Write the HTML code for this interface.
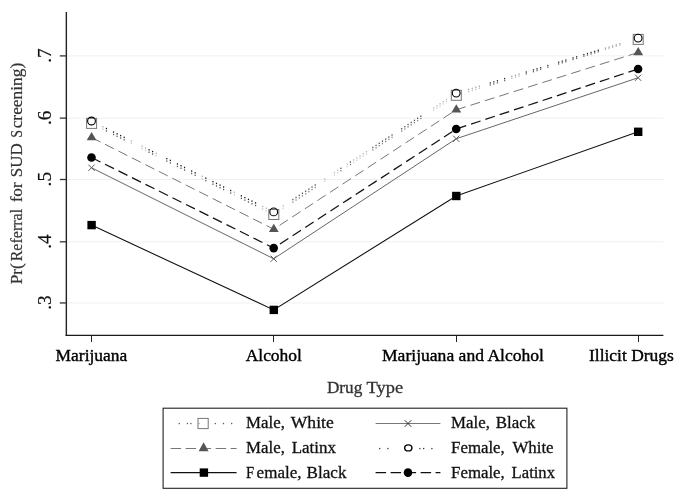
<!DOCTYPE html>
<html><head><meta charset="utf-8"><title>chart</title>
<style>
html,body{margin:0;padding:0;background:#fff;}
body{width:685px;height:496px;overflow:hidden;}
svg{display:block;will-change:transform;filter:grayscale(1);}
text{font-family:"Liberation Serif",serif;}
</style></head><body>
<svg width="685" height="496" viewBox="0 0 685 496">
<rect x="0" y="0" width="685" height="496" fill="#fff"/>
<line x1="67" y1="55.9" x2="663.4" y2="55.9" stroke="#f0f0f0" stroke-width="1"/>
<line x1="67" y1="118.1" x2="663.4" y2="118.1" stroke="#f0f0f0" stroke-width="1"/>
<line x1="67" y1="179.5" x2="663.4" y2="179.5" stroke="#f0f0f0" stroke-width="1"/>
<line x1="67" y1="241.8" x2="663.4" y2="241.8" stroke="#f0f0f0" stroke-width="1"/>
<line x1="67" y1="302.95" x2="663.4" y2="302.95" stroke="#f0f0f0" stroke-width="1"/>
<g><rect x="105.85" y="127.83" width="1.2" height="1.4" fill="#111" fill-opacity="1.00"/><rect x="105.85" y="130.25" width="1.2" height="1.4" fill="#555" fill-opacity="1.00"/><rect x="112.95" y="131.38" width="1.2" height="1.4" fill="#111" fill-opacity="1.00"/><rect x="112.95" y="133.80" width="1.2" height="1.4" fill="#555" fill-opacity="1.00"/><rect x="116.50" y="133.15" width="1.2" height="1.4" fill="#111" fill-opacity="1.00"/><rect x="116.50" y="135.58" width="1.2" height="1.4" fill="#555" fill-opacity="1.00"/><rect x="120.05" y="134.92" width="1.2" height="1.4" fill="#111" fill-opacity="1.00"/><rect x="120.05" y="137.35" width="1.2" height="1.4" fill="#555" fill-opacity="1.00"/><rect x="123.60" y="136.69" width="1.2" height="1.4" fill="#111" fill-opacity="1.00"/><rect x="123.60" y="139.13" width="1.2" height="1.4" fill="#555" fill-opacity="1.00"/><rect x="148.45" y="149.09" width="1.2" height="1.4" fill="#111" fill-opacity="1.00"/><rect x="148.45" y="151.55" width="1.2" height="1.4" fill="#555" fill-opacity="1.00"/><rect x="152.00" y="150.86" width="1.2" height="1.4" fill="#111" fill-opacity="1.00"/><rect x="152.00" y="153.33" width="1.2" height="1.4" fill="#555" fill-opacity="1.00"/><rect x="166.20" y="157.94" width="1.2" height="1.4" fill="#111" fill-opacity="1.00"/><rect x="166.20" y="160.43" width="1.2" height="1.4" fill="#555" fill-opacity="1.00"/><rect x="169.75" y="159.71" width="1.2" height="1.4" fill="#111" fill-opacity="1.00"/><rect x="169.75" y="162.20" width="1.2" height="1.4" fill="#555" fill-opacity="1.00"/><rect x="176.85" y="163.26" width="1.2" height="1.4" fill="#111" fill-opacity="1.00"/><rect x="176.85" y="165.75" width="1.2" height="1.4" fill="#555" fill-opacity="1.00"/><rect x="180.40" y="165.03" width="1.2" height="1.4" fill="#111" fill-opacity="1.00"/><rect x="180.40" y="167.53" width="1.2" height="1.4" fill="#555" fill-opacity="1.00"/><rect x="183.95" y="166.80" width="1.2" height="1.4" fill="#111" fill-opacity="1.00"/><rect x="183.95" y="169.30" width="1.2" height="1.4" fill="#555" fill-opacity="1.00"/><rect x="191.05" y="170.34" width="1.2" height="1.4" fill="#111" fill-opacity="1.00"/><rect x="191.05" y="172.85" width="1.2" height="1.4" fill="#555" fill-opacity="1.00"/><rect x="194.60" y="172.11" width="1.2" height="1.4" fill="#111" fill-opacity="1.00"/><rect x="194.60" y="174.63" width="1.2" height="1.4" fill="#555" fill-opacity="1.00"/><rect x="205.25" y="177.42" width="1.2" height="1.4" fill="#111" fill-opacity="1.00"/><rect x="205.25" y="179.95" width="1.2" height="1.4" fill="#555" fill-opacity="1.00"/><rect x="212.35" y="180.97" width="1.2" height="1.4" fill="#111" fill-opacity="1.00"/><rect x="212.35" y="183.50" width="1.2" height="1.4" fill="#555" fill-opacity="1.00"/><rect x="215.90" y="182.74" width="1.2" height="1.4" fill="#111" fill-opacity="1.00"/><rect x="215.90" y="185.28" width="1.2" height="1.4" fill="#555" fill-opacity="1.00"/><rect x="219.45" y="184.51" width="1.2" height="1.4" fill="#111" fill-opacity="1.00"/><rect x="219.45" y="187.05" width="1.2" height="1.4" fill="#555" fill-opacity="1.00"/><rect x="223.00" y="186.28" width="1.2" height="1.4" fill="#111" fill-opacity="1.00"/><rect x="223.00" y="188.83" width="1.2" height="1.4" fill="#555" fill-opacity="1.00"/><rect x="230.10" y="189.82" width="1.2" height="1.4" fill="#111" fill-opacity="1.00"/><rect x="230.10" y="192.38" width="1.2" height="1.4" fill="#555" fill-opacity="1.00"/><rect x="240.75" y="195.14" width="1.2" height="1.4" fill="#111" fill-opacity="1.00"/><rect x="240.75" y="197.70" width="1.2" height="1.4" fill="#555" fill-opacity="1.00"/><rect x="244.30" y="196.91" width="1.2" height="1.4" fill="#111" fill-opacity="1.00"/><rect x="244.30" y="199.47" width="1.2" height="1.4" fill="#555" fill-opacity="1.00"/><rect x="247.85" y="198.68" width="1.2" height="1.4" fill="#111" fill-opacity="1.00"/><rect x="247.85" y="201.25" width="1.2" height="1.4" fill="#555" fill-opacity="1.00"/><rect x="251.40" y="200.45" width="1.2" height="1.4" fill="#111" fill-opacity="1.00"/><rect x="251.40" y="203.03" width="1.2" height="1.4" fill="#555" fill-opacity="1.00"/><rect x="254.95" y="202.22" width="1.2" height="1.4" fill="#111" fill-opacity="1.00"/><rect x="254.95" y="204.80" width="1.2" height="1.4" fill="#555" fill-opacity="1.00"/><rect x="102.30" y="126.06" width="1.2" height="1.4" fill="#111" fill-opacity="0.35"/><rect x="102.30" y="128.48" width="1.2" height="1.4" fill="#555" fill-opacity="0.35"/><rect x="130.70" y="140.23" width="1.2" height="1.4" fill="#111" fill-opacity="0.35"/><rect x="130.70" y="142.68" width="1.2" height="1.4" fill="#555" fill-opacity="0.35"/><rect x="141.35" y="145.54" width="1.2" height="1.4" fill="#111" fill-opacity="0.35"/><rect x="141.35" y="148.00" width="1.2" height="1.4" fill="#555" fill-opacity="0.35"/><rect x="144.90" y="147.32" width="1.2" height="1.4" fill="#111" fill-opacity="0.35"/><rect x="144.90" y="149.78" width="1.2" height="1.4" fill="#555" fill-opacity="0.35"/><rect x="155.55" y="152.63" width="1.2" height="1.4" fill="#111" fill-opacity="0.35"/><rect x="155.55" y="155.10" width="1.2" height="1.4" fill="#555" fill-opacity="0.35"/><rect x="201.70" y="175.65" width="1.2" height="1.4" fill="#111" fill-opacity="0.35"/><rect x="201.70" y="178.18" width="1.2" height="1.4" fill="#555" fill-opacity="0.35"/><rect x="233.65" y="191.59" width="1.2" height="1.4" fill="#111" fill-opacity="0.35"/><rect x="233.65" y="194.15" width="1.2" height="1.4" fill="#555" fill-opacity="0.35"/><rect x="262.05" y="205.76" width="1.2" height="1.4" fill="#111" fill-opacity="0.35"/><rect x="262.05" y="208.35" width="1.2" height="1.4" fill="#555" fill-opacity="0.35"/><rect x="265.60" y="207.53" width="1.2" height="1.4" fill="#111" fill-opacity="0.35"/><rect x="265.60" y="210.12" width="1.2" height="1.4" fill="#555" fill-opacity="0.35"/><rect x="282.65" y="205.12" width="1.2" height="1.4" fill="#111" fill-opacity="0.30"/><rect x="282.65" y="207.70" width="1.2" height="1.4" fill="#555" fill-opacity="0.30"/><rect x="292.25" y="198.87" width="1.2" height="1.4" fill="#111" fill-opacity="0.75"/><rect x="292.25" y="201.42" width="1.2" height="1.4" fill="#555" fill-opacity="0.75"/><rect x="295.45" y="196.78" width="1.2" height="1.4" fill="#111" fill-opacity="0.75"/><rect x="295.45" y="199.33" width="1.2" height="1.4" fill="#555" fill-opacity="0.75"/><rect x="298.65" y="194.70" width="1.2" height="1.4" fill="#111" fill-opacity="0.75"/><rect x="298.65" y="197.24" width="1.2" height="1.4" fill="#555" fill-opacity="0.75"/><rect x="301.85" y="192.62" width="1.2" height="1.4" fill="#111" fill-opacity="0.75"/><rect x="301.85" y="195.15" width="1.2" height="1.4" fill="#555" fill-opacity="0.75"/><rect x="305.05" y="190.53" width="1.2" height="1.4" fill="#111" fill-opacity="0.75"/><rect x="305.05" y="193.06" width="1.2" height="1.4" fill="#555" fill-opacity="0.75"/><rect x="308.25" y="188.45" width="1.2" height="1.4" fill="#111" fill-opacity="0.75"/><rect x="308.25" y="190.97" width="1.2" height="1.4" fill="#555" fill-opacity="0.75"/><rect x="311.45" y="186.37" width="1.2" height="1.4" fill="#111" fill-opacity="0.75"/><rect x="311.45" y="188.88" width="1.2" height="1.4" fill="#555" fill-opacity="0.75"/><rect x="314.65" y="184.29" width="1.2" height="1.4" fill="#111" fill-opacity="0.75"/><rect x="314.65" y="186.79" width="1.2" height="1.4" fill="#555" fill-opacity="0.75"/><rect x="324.25" y="178.04" width="1.2" height="1.4" fill="#111" fill-opacity="0.30"/><rect x="324.25" y="180.52" width="1.2" height="1.4" fill="#555" fill-opacity="0.30"/><rect x="333.85" y="171.79" width="1.2" height="1.4" fill="#111" fill-opacity="0.30"/><rect x="333.85" y="174.25" width="1.2" height="1.4" fill="#555" fill-opacity="0.30"/><rect x="337.05" y="169.70" width="1.2" height="1.4" fill="#111" fill-opacity="0.30"/><rect x="337.05" y="172.16" width="1.2" height="1.4" fill="#555" fill-opacity="0.30"/><rect x="340.25" y="167.62" width="1.2" height="1.4" fill="#111" fill-opacity="0.75"/><rect x="340.25" y="170.07" width="1.2" height="1.4" fill="#555" fill-opacity="0.75"/><rect x="346.65" y="163.45" width="1.2" height="1.4" fill="#111" fill-opacity="0.30"/><rect x="346.65" y="165.89" width="1.2" height="1.4" fill="#555" fill-opacity="0.30"/><rect x="349.85" y="161.37" width="1.2" height="1.4" fill="#111" fill-opacity="0.75"/><rect x="349.85" y="163.80" width="1.2" height="1.4" fill="#555" fill-opacity="0.75"/><rect x="353.05" y="159.29" width="1.2" height="1.4" fill="#111" fill-opacity="0.30"/><rect x="353.05" y="161.71" width="1.2" height="1.4" fill="#555" fill-opacity="0.30"/><rect x="356.25" y="157.21" width="1.2" height="1.4" fill="#111" fill-opacity="0.30"/><rect x="356.25" y="159.62" width="1.2" height="1.4" fill="#555" fill-opacity="0.30"/><rect x="359.45" y="155.12" width="1.2" height="1.4" fill="#111" fill-opacity="0.30"/><rect x="359.45" y="157.53" width="1.2" height="1.4" fill="#555" fill-opacity="0.30"/><rect x="362.65" y="153.04" width="1.2" height="1.4" fill="#111" fill-opacity="0.30"/><rect x="362.65" y="155.44" width="1.2" height="1.4" fill="#555" fill-opacity="0.30"/><rect x="365.85" y="150.96" width="1.2" height="1.4" fill="#111" fill-opacity="0.30"/><rect x="365.85" y="153.35" width="1.2" height="1.4" fill="#555" fill-opacity="0.30"/><rect x="372.25" y="146.79" width="1.2" height="1.4" fill="#111" fill-opacity="0.75"/><rect x="372.25" y="149.17" width="1.2" height="1.4" fill="#555" fill-opacity="0.75"/><rect x="375.45" y="144.71" width="1.2" height="1.4" fill="#111" fill-opacity="0.75"/><rect x="375.45" y="147.08" width="1.2" height="1.4" fill="#555" fill-opacity="0.75"/><rect x="378.65" y="142.62" width="1.2" height="1.4" fill="#111" fill-opacity="0.75"/><rect x="378.65" y="144.99" width="1.2" height="1.4" fill="#555" fill-opacity="0.75"/><rect x="381.85" y="140.54" width="1.2" height="1.4" fill="#111" fill-opacity="0.75"/><rect x="381.85" y="142.90" width="1.2" height="1.4" fill="#555" fill-opacity="0.75"/><rect x="385.05" y="138.46" width="1.2" height="1.4" fill="#111" fill-opacity="0.75"/><rect x="385.05" y="140.81" width="1.2" height="1.4" fill="#555" fill-opacity="0.75"/><rect x="388.25" y="136.37" width="1.2" height="1.4" fill="#111" fill-opacity="0.75"/><rect x="388.25" y="138.72" width="1.2" height="1.4" fill="#555" fill-opacity="0.75"/><rect x="391.45" y="134.29" width="1.2" height="1.4" fill="#111" fill-opacity="0.75"/><rect x="391.45" y="136.63" width="1.2" height="1.4" fill="#555" fill-opacity="0.75"/><rect x="401.05" y="128.04" width="1.2" height="1.4" fill="#111" fill-opacity="0.75"/><rect x="401.05" y="130.36" width="1.2" height="1.4" fill="#555" fill-opacity="0.75"/><rect x="404.25" y="125.96" width="1.2" height="1.4" fill="#111" fill-opacity="0.75"/><rect x="404.25" y="128.27" width="1.2" height="1.4" fill="#555" fill-opacity="0.75"/><rect x="407.45" y="123.88" width="1.2" height="1.4" fill="#111" fill-opacity="0.75"/><rect x="407.45" y="126.18" width="1.2" height="1.4" fill="#555" fill-opacity="0.75"/><rect x="410.65" y="121.79" width="1.2" height="1.4" fill="#111" fill-opacity="0.75"/><rect x="410.65" y="124.09" width="1.2" height="1.4" fill="#555" fill-opacity="0.75"/><rect x="413.85" y="119.71" width="1.2" height="1.4" fill="#111" fill-opacity="0.75"/><rect x="413.85" y="122.00" width="1.2" height="1.4" fill="#555" fill-opacity="0.75"/><rect x="417.05" y="117.63" width="1.2" height="1.4" fill="#111" fill-opacity="0.75"/><rect x="417.05" y="119.91" width="1.2" height="1.4" fill="#555" fill-opacity="0.75"/><rect x="420.25" y="115.54" width="1.2" height="1.4" fill="#111" fill-opacity="0.75"/><rect x="420.25" y="117.82" width="1.2" height="1.4" fill="#555" fill-opacity="0.75"/><rect x="433.05" y="107.21" width="1.2" height="1.4" fill="#111" fill-opacity="0.30"/><rect x="433.05" y="109.46" width="1.2" height="1.4" fill="#555" fill-opacity="0.30"/><rect x="436.25" y="105.13" width="1.2" height="1.4" fill="#111" fill-opacity="0.30"/><rect x="436.25" y="107.37" width="1.2" height="1.4" fill="#555" fill-opacity="0.30"/><rect x="439.45" y="103.05" width="1.2" height="1.4" fill="#111" fill-opacity="0.30"/><rect x="439.45" y="105.28" width="1.2" height="1.4" fill="#555" fill-opacity="0.30"/><rect x="442.65" y="100.96" width="1.2" height="1.4" fill="#111" fill-opacity="0.30"/><rect x="442.65" y="103.19" width="1.2" height="1.4" fill="#555" fill-opacity="0.30"/><rect x="445.85" y="98.88" width="1.2" height="1.4" fill="#111" fill-opacity="0.30"/><rect x="445.85" y="101.10" width="1.2" height="1.4" fill="#555" fill-opacity="0.30"/><rect x="468.05" y="88.75" width="1.2" height="1.4" fill="#111" fill-opacity="0.40"/><rect x="468.05" y="90.89" width="1.2" height="1.4" fill="#555" fill-opacity="0.40"/><rect x="471.65" y="87.66" width="1.2" height="1.4" fill="#111" fill-opacity="0.40"/><rect x="471.65" y="89.78" width="1.2" height="1.4" fill="#555" fill-opacity="0.40"/><rect x="475.25" y="86.57" width="1.2" height="1.4" fill="#111" fill-opacity="0.40"/><rect x="475.25" y="88.68" width="1.2" height="1.4" fill="#555" fill-opacity="0.40"/><rect x="478.85" y="85.49" width="1.2" height="1.4" fill="#111" fill-opacity="0.40"/><rect x="478.85" y="87.57" width="1.2" height="1.4" fill="#555" fill-opacity="0.40"/><rect x="489.65" y="82.22" width="1.2" height="1.4" fill="#111" fill-opacity="0.90"/><rect x="489.65" y="84.25" width="1.2" height="1.4" fill="#555" fill-opacity="0.90"/><rect x="493.25" y="81.13" width="1.2" height="1.4" fill="#111" fill-opacity="0.90"/><rect x="493.25" y="83.15" width="1.2" height="1.4" fill="#555" fill-opacity="0.90"/><rect x="496.85" y="80.04" width="1.2" height="1.4" fill="#111" fill-opacity="0.90"/><rect x="496.85" y="82.04" width="1.2" height="1.4" fill="#555" fill-opacity="0.90"/><rect x="504.05" y="77.87" width="1.2" height="1.4" fill="#111" fill-opacity="0.90"/><rect x="504.05" y="79.83" width="1.2" height="1.4" fill="#555" fill-opacity="0.90"/><rect x="511.25" y="75.69" width="1.2" height="1.4" fill="#111" fill-opacity="0.40"/><rect x="511.25" y="77.61" width="1.2" height="1.4" fill="#555" fill-opacity="0.40"/><rect x="514.85" y="74.60" width="1.2" height="1.4" fill="#111" fill-opacity="0.40"/><rect x="514.85" y="76.51" width="1.2" height="1.4" fill="#555" fill-opacity="0.40"/><rect x="518.45" y="73.51" width="1.2" height="1.4" fill="#111" fill-opacity="0.40"/><rect x="518.45" y="75.40" width="1.2" height="1.4" fill="#555" fill-opacity="0.40"/><rect x="525.65" y="71.33" width="1.2" height="1.4" fill="#111" fill-opacity="0.90"/><rect x="525.65" y="73.19" width="1.2" height="1.4" fill="#555" fill-opacity="0.90"/><rect x="532.85" y="69.16" width="1.2" height="1.4" fill="#111" fill-opacity="0.90"/><rect x="532.85" y="70.98" width="1.2" height="1.4" fill="#555" fill-opacity="0.90"/><rect x="536.45" y="68.07" width="1.2" height="1.4" fill="#111" fill-opacity="0.90"/><rect x="536.45" y="69.87" width="1.2" height="1.4" fill="#555" fill-opacity="0.90"/><rect x="540.05" y="66.98" width="1.2" height="1.4" fill="#111" fill-opacity="0.90"/><rect x="540.05" y="68.76" width="1.2" height="1.4" fill="#555" fill-opacity="0.90"/><rect x="547.25" y="64.80" width="1.2" height="1.4" fill="#111" fill-opacity="0.90"/><rect x="547.25" y="66.55" width="1.2" height="1.4" fill="#555" fill-opacity="0.90"/><rect x="558.05" y="61.54" width="1.2" height="1.4" fill="#111" fill-opacity="0.90"/><rect x="558.05" y="63.23" width="1.2" height="1.4" fill="#555" fill-opacity="0.90"/><rect x="561.65" y="60.45" width="1.2" height="1.4" fill="#111" fill-opacity="0.90"/><rect x="561.65" y="62.12" width="1.2" height="1.4" fill="#555" fill-opacity="0.90"/><rect x="565.25" y="59.36" width="1.2" height="1.4" fill="#111" fill-opacity="0.90"/><rect x="565.25" y="61.02" width="1.2" height="1.4" fill="#555" fill-opacity="0.90"/><rect x="572.45" y="57.18" width="1.2" height="1.4" fill="#111" fill-opacity="0.90"/><rect x="572.45" y="58.81" width="1.2" height="1.4" fill="#555" fill-opacity="0.90"/><rect x="576.05" y="56.10" width="1.2" height="1.4" fill="#111" fill-opacity="0.90"/><rect x="576.05" y="57.70" width="1.2" height="1.4" fill="#555" fill-opacity="0.90"/><rect x="583.25" y="53.92" width="1.2" height="1.4" fill="#111" fill-opacity="0.90"/><rect x="583.25" y="55.49" width="1.2" height="1.4" fill="#555" fill-opacity="0.90"/><rect x="586.85" y="52.83" width="1.2" height="1.4" fill="#111" fill-opacity="0.90"/><rect x="586.85" y="54.38" width="1.2" height="1.4" fill="#555" fill-opacity="0.90"/><rect x="590.45" y="51.74" width="1.2" height="1.4" fill="#111" fill-opacity="0.90"/><rect x="590.45" y="53.27" width="1.2" height="1.4" fill="#555" fill-opacity="0.90"/><rect x="594.05" y="50.65" width="1.2" height="1.4" fill="#111" fill-opacity="0.90"/><rect x="594.05" y="52.17" width="1.2" height="1.4" fill="#555" fill-opacity="0.90"/><rect x="597.65" y="49.56" width="1.2" height="1.4" fill="#111" fill-opacity="0.90"/><rect x="597.65" y="51.06" width="1.2" height="1.4" fill="#555" fill-opacity="0.90"/><rect x="604.85" y="47.39" width="1.2" height="1.4" fill="#111" fill-opacity="0.40"/><rect x="604.85" y="48.85" width="1.2" height="1.4" fill="#555" fill-opacity="0.40"/><rect x="608.45" y="46.30" width="1.2" height="1.4" fill="#111" fill-opacity="0.40"/><rect x="608.45" y="47.74" width="1.2" height="1.4" fill="#555" fill-opacity="0.40"/><rect x="612.05" y="45.21" width="1.2" height="1.4" fill="#111" fill-opacity="0.40"/><rect x="612.05" y="46.64" width="1.2" height="1.4" fill="#555" fill-opacity="0.40"/><rect x="615.65" y="44.12" width="1.2" height="1.4" fill="#111" fill-opacity="0.40"/><rect x="615.65" y="45.53" width="1.2" height="1.4" fill="#555" fill-opacity="0.40"/><rect x="619.25" y="43.03" width="1.2" height="1.4" fill="#111" fill-opacity="0.40"/><rect x="619.25" y="44.42" width="1.2" height="1.4" fill="#555" fill-opacity="0.40"/></g>
<polyline points="91.50,137.50 273.70,229.20 456.20,109.80 638.10,52.50" fill="none" stroke="#777" stroke-width="1.0" stroke-dasharray="10 5.07"/>
<polyline points="91.50,157.50 273.70,248.10 456.20,129.00 638.10,69.00" fill="none" stroke="#111" stroke-width="1.25" stroke-dasharray="10 5.07"/>
<polyline points="91.50,167.75 273.70,258.75 456.20,138.75 638.10,77.75" fill="none" stroke="#666" stroke-width="1.0"/>
<polyline points="91.50,225.10 273.70,309.90 456.20,196.00 638.10,131.80" fill="none" stroke="#111" stroke-width="1.1"/>
<rect x="86.60" y="118.40" width="10.0" height="10.0" fill="none" stroke="#777" stroke-width="1.0"/>
<polygon points="86.70,140.23 96.50,140.23 91.60,132.03" fill="#555"/>
<path d="M88.40 164.65L94.60 170.85M88.40 170.85L94.60 164.65" stroke="#555" stroke-width="1.0" fill="none"/>
<circle cx="91.50" cy="121.00" r="3.9" fill="none" stroke="#000" stroke-width="1.1"/>
<circle cx="91.50" cy="157.50" r="4.3" fill="#000"/>
<rect x="87.40" y="220.90" width="8.4" height="8.4" fill="#000"/>
<rect x="268.80" y="209.50" width="10.0" height="10.0" fill="none" stroke="#777" stroke-width="1.0"/>
<polygon points="268.90,231.93 278.70,231.93 273.80,223.73" fill="#555"/>
<path d="M270.60 255.65L276.80 261.85M270.60 261.85L276.80 255.65" stroke="#555" stroke-width="1.0" fill="none"/>
<circle cx="273.70" cy="211.90" r="3.9" fill="none" stroke="#000" stroke-width="1.1"/>
<circle cx="273.70" cy="248.10" r="4.3" fill="#000"/>
<rect x="269.60" y="305.70" width="8.4" height="8.4" fill="#000"/>
<rect x="451.30" y="90.30" width="10.0" height="10.0" fill="none" stroke="#777" stroke-width="1.0"/>
<polygon points="451.40,112.53 461.20,112.53 456.30,104.33" fill="#555"/>
<path d="M453.10 135.65L459.30 141.85M453.10 141.85L459.30 135.65" stroke="#555" stroke-width="1.0" fill="none"/>
<circle cx="456.20" cy="93.10" r="3.9" fill="none" stroke="#000" stroke-width="1.1"/>
<circle cx="456.20" cy="129.00" r="4.3" fill="#000"/>
<rect x="452.10" y="191.80" width="8.4" height="8.4" fill="#000"/>
<rect x="633.20" y="34.40" width="10.0" height="10.0" fill="none" stroke="#777" stroke-width="1.0"/>
<polygon points="633.30,55.23 643.10,55.23 638.20,47.03" fill="#555"/>
<path d="M635.00 74.65L641.20 80.85M635.00 80.85L641.20 74.65" stroke="#555" stroke-width="1.0" fill="none"/>
<circle cx="638.10" cy="38.10" r="3.9" fill="none" stroke="#000" stroke-width="1.1"/>
<circle cx="638.10" cy="69.00" r="4.3" fill="#000"/>
<rect x="634.00" y="127.60" width="8.4" height="8.4" fill="#000"/>
<line x1="66.35" y1="12" x2="66.35" y2="336" stroke="#222" stroke-width="1.4"/>
<line x1="65.65" y1="335.4" x2="663.4" y2="335.4" stroke="#1a1a1a" stroke-width="1.25"/>
<line x1="59.8" y1="55.9" x2="66.3" y2="55.9" stroke="#333" stroke-width="1.3"/>
<line x1="59.8" y1="118.1" x2="66.3" y2="118.1" stroke="#333" stroke-width="1.3"/>
<line x1="59.8" y1="179.5" x2="66.3" y2="179.5" stroke="#333" stroke-width="1.3"/>
<line x1="59.8" y1="241.8" x2="66.3" y2="241.8" stroke="#333" stroke-width="1.3"/>
<line x1="59.8" y1="302.95" x2="66.3" y2="302.95" stroke="#333" stroke-width="1.3"/>
<line x1="91.5" y1="335.4" x2="91.5" y2="342" stroke="#222" stroke-width="1.05"/>
<line x1="273.5" y1="335.4" x2="273.5" y2="342" stroke="#222" stroke-width="1.05"/>
<line x1="456.5" y1="335.4" x2="456.5" y2="342" stroke="#222" stroke-width="1.05"/>
<line x1="638.5" y1="335.4" x2="638.5" y2="342" stroke="#222" stroke-width="1.05"/>
<text transform="translate(51.3 62.80) rotate(-90)" font-size="18" fill="#111" stroke="#111" stroke-width="0.2" textLength="14.4" lengthAdjust="spacingAndGlyphs">.7</text>
<text transform="translate(51.3 125.00) rotate(-90)" font-size="18" fill="#111" stroke="#111" stroke-width="0.2" textLength="14.4" lengthAdjust="spacingAndGlyphs">.6</text>
<text transform="translate(51.3 186.40) rotate(-90)" font-size="18" fill="#111" stroke="#111" stroke-width="0.2" textLength="14.4" lengthAdjust="spacingAndGlyphs">.5</text>
<text transform="translate(51.3 248.70) rotate(-90)" font-size="18" fill="#111" stroke="#111" stroke-width="0.2" textLength="14.4" lengthAdjust="spacingAndGlyphs">.4</text>
<text transform="translate(51.3 309.85) rotate(-90)" font-size="18" fill="#111" stroke="#111" stroke-width="0.2" textLength="14.4" lengthAdjust="spacingAndGlyphs">.3</text>
<text transform="translate(22.3 284.35) rotate(-90)" font-size="17" fill="#333" stroke="#333" stroke-width="0.2" textLength="21.00" lengthAdjust="spacingAndGlyphs">Pr(</text>
<text transform="translate(22.3 261.35) rotate(-90)" font-size="17" fill="#333" stroke="#333" stroke-width="0.2" textLength="52.45" lengthAdjust="spacingAndGlyphs">Referral</text>
<text transform="translate(22.3 202.35) rotate(-90)" font-size="17" fill="#333" stroke="#333" stroke-width="0.2" textLength="20.05" lengthAdjust="spacingAndGlyphs">for</text>
<text transform="translate(22.3 177.15) rotate(-90)" font-size="17" fill="#333" stroke="#333" stroke-width="0.2" textLength="33.90" lengthAdjust="spacingAndGlyphs">SUD</text>
<text transform="translate(22.3 137.85) rotate(-90)" font-size="17" fill="#333" stroke="#333" stroke-width="0.2" textLength="7.90" lengthAdjust="spacingAndGlyphs">S</text>
<text transform="translate(22.3 128.35) rotate(-90)" font-size="17" fill="#333" stroke="#333" stroke-width="0.2" textLength="65.64" lengthAdjust="spacingAndGlyphs">creening)</text>
<text x="55.6" y="360.7" font-size="17.7" fill="#000" stroke="#000" stroke-width="0.4" textLength="71.7" lengthAdjust="spacingAndGlyphs">Marijuana</text>
<text x="245.7" y="360.7" font-size="17.7" fill="#000" stroke="#000" stroke-width="0.4" textLength="56.2" lengthAdjust="spacingAndGlyphs">Alcohol</text>
<text x="382" y="360.7" font-size="17.7" fill="#000" stroke="#000" stroke-width="0.4" textLength="162.0" lengthAdjust="spacingAndGlyphs">Marijuana and Alcohol</text>
<text x="589" y="360.7" font-size="17.7" fill="#000" stroke="#000" stroke-width="0.4" textLength="84.8" lengthAdjust="spacingAndGlyphs">Illicit Drugs</text>
<text x="326.9" y="392.6" font-size="17.7" fill="#333" stroke="#333" stroke-width="0.3" textLength="35.4" lengthAdjust="spacingAndGlyphs">Drug</text>
<text x="366.5" y="392.6" font-size="17.7" fill="#333" stroke="#333" stroke-width="0.3" textLength="36.6" lengthAdjust="spacingAndGlyphs">Type</text>
<rect x="163.1" y="408.2" width="403.8" height="80.1" fill="#fff" stroke="#222" stroke-width="1.1"/>
<rect x="178.65" y="422.90" width="1.25" height="1.3" fill="#555"/><rect x="186.85" y="422.90" width="1.25" height="1.3" fill="#555"/><rect x="190.25" y="422.90" width="1.25" height="1.3" fill="#555"/><rect x="214.65" y="422.90" width="1.25" height="1.3" fill="#555"/><rect x="222.85" y="422.90" width="1.25" height="1.3" fill="#555"/><rect x="231.05" y="422.90" width="1.25" height="1.3" fill="#555"/>
<rect x="198.00" y="418.40" width="10.2" height="10.2" fill="none" stroke="#777" stroke-width="1.0"/>
<rect x="198.35" y="422.90" width="1.25" height="1.3" fill="#999"/>
<line x1="170.6" y1="448.5" x2="236.6" y2="448.5" stroke="#777" stroke-width="1.0" stroke-dasharray="10.5 4.5"/>
<polygon points="198.60,451.20 208.60,451.20 203.60,442.20" fill="#555"/>
<line x1="170.6" y1="472.6" x2="236.6" y2="472.6" stroke="#111" stroke-width="1.1"/>
<rect x="199.70" y="468.40" width="8.4" height="8.4" fill="#000"/>
<line x1="375.6" y1="423.5" x2="440.4" y2="423.5" stroke="#777" stroke-width="1.0"/>
<path d="M404.70 420.20L411.30 426.80M404.70 426.80L411.30 420.20" stroke="#333" stroke-width="1.0" fill="none"/>
<rect x="379.05" y="447.90" width="1.25" height="1.3" fill="#333"/><rect x="387.25" y="447.90" width="1.25" height="1.3" fill="#333"/><rect x="419.25" y="447.90" width="1.25" height="1.3" fill="#333"/><rect x="423.05" y="447.90" width="1.25" height="1.3" fill="#333"/><rect x="431.25" y="447.90" width="1.25" height="1.3" fill="#333"/>
<ellipse cx="408.3" cy="447.9" rx="3.6" ry="3.0" fill="#fff" stroke="#000" stroke-width="1.4"/>
<line x1="375.6" y1="472.6" x2="440.4" y2="472.6" stroke="#111" stroke-width="1.4" stroke-dasharray="10.5 4.5"/>
<circle cx="408.00" cy="472.60" r="4.3" fill="#000"/>
<text x="246.1" y="427.8" font-size="16.8" fill="#111" stroke="#111" stroke-width="0.3" textLength="38.8" lengthAdjust="spacingAndGlyphs">Male,</text>
<text x="290.8" y="427.8" font-size="16.8" fill="#111" stroke="#111" stroke-width="0.3" textLength="42.9" lengthAdjust="spacingAndGlyphs">White</text>
<text x="246.1" y="453.2" font-size="16.8" fill="#111" stroke="#111" stroke-width="0.3" textLength="38.8" lengthAdjust="spacingAndGlyphs">Male,</text>
<text x="291.7" y="453.2" font-size="16.8" fill="#111" stroke="#111" stroke-width="0.3" textLength="44.3" lengthAdjust="spacingAndGlyphs">Latinx</text>
<text x="246.1" y="478.0" font-size="16.8" fill="#111" stroke="#111" stroke-width="0.3" textLength="8.1" lengthAdjust="spacingAndGlyphs">F</text>
<text x="256.6" y="478.0" font-size="16.8" fill="#111" stroke="#111" stroke-width="0.3" textLength="44.9" lengthAdjust="spacingAndGlyphs">emale,</text>
<text x="306.6" y="478.0" font-size="16.8" fill="#111" stroke="#111" stroke-width="0.3" textLength="39.9" lengthAdjust="spacingAndGlyphs">Black</text>
<text x="451.1" y="427.8" font-size="16.8" fill="#111" stroke="#111" stroke-width="0.3" textLength="38.8" lengthAdjust="spacingAndGlyphs">Male,</text>
<text x="495.8" y="427.8" font-size="16.8" fill="#111" stroke="#111" stroke-width="0.3" textLength="39.4" lengthAdjust="spacingAndGlyphs">Black</text>
<text x="451.1" y="453.2" font-size="16.8" fill="#111" stroke="#111" stroke-width="0.3" textLength="53.7" lengthAdjust="spacingAndGlyphs">Female,</text>
<text x="512.4" y="453.2" font-size="16.8" fill="#111" stroke="#111" stroke-width="0.3" textLength="41.2" lengthAdjust="spacingAndGlyphs">White</text>
<text x="451.1" y="478.0" font-size="16.8" fill="#111" stroke="#111" stroke-width="0.3" textLength="53.7" lengthAdjust="spacingAndGlyphs">Female,</text>
<text x="511.6" y="478.0" font-size="16.8" fill="#111" stroke="#111" stroke-width="0.3" textLength="43.4" lengthAdjust="spacingAndGlyphs">Latinx</text>
</svg></body></html>
